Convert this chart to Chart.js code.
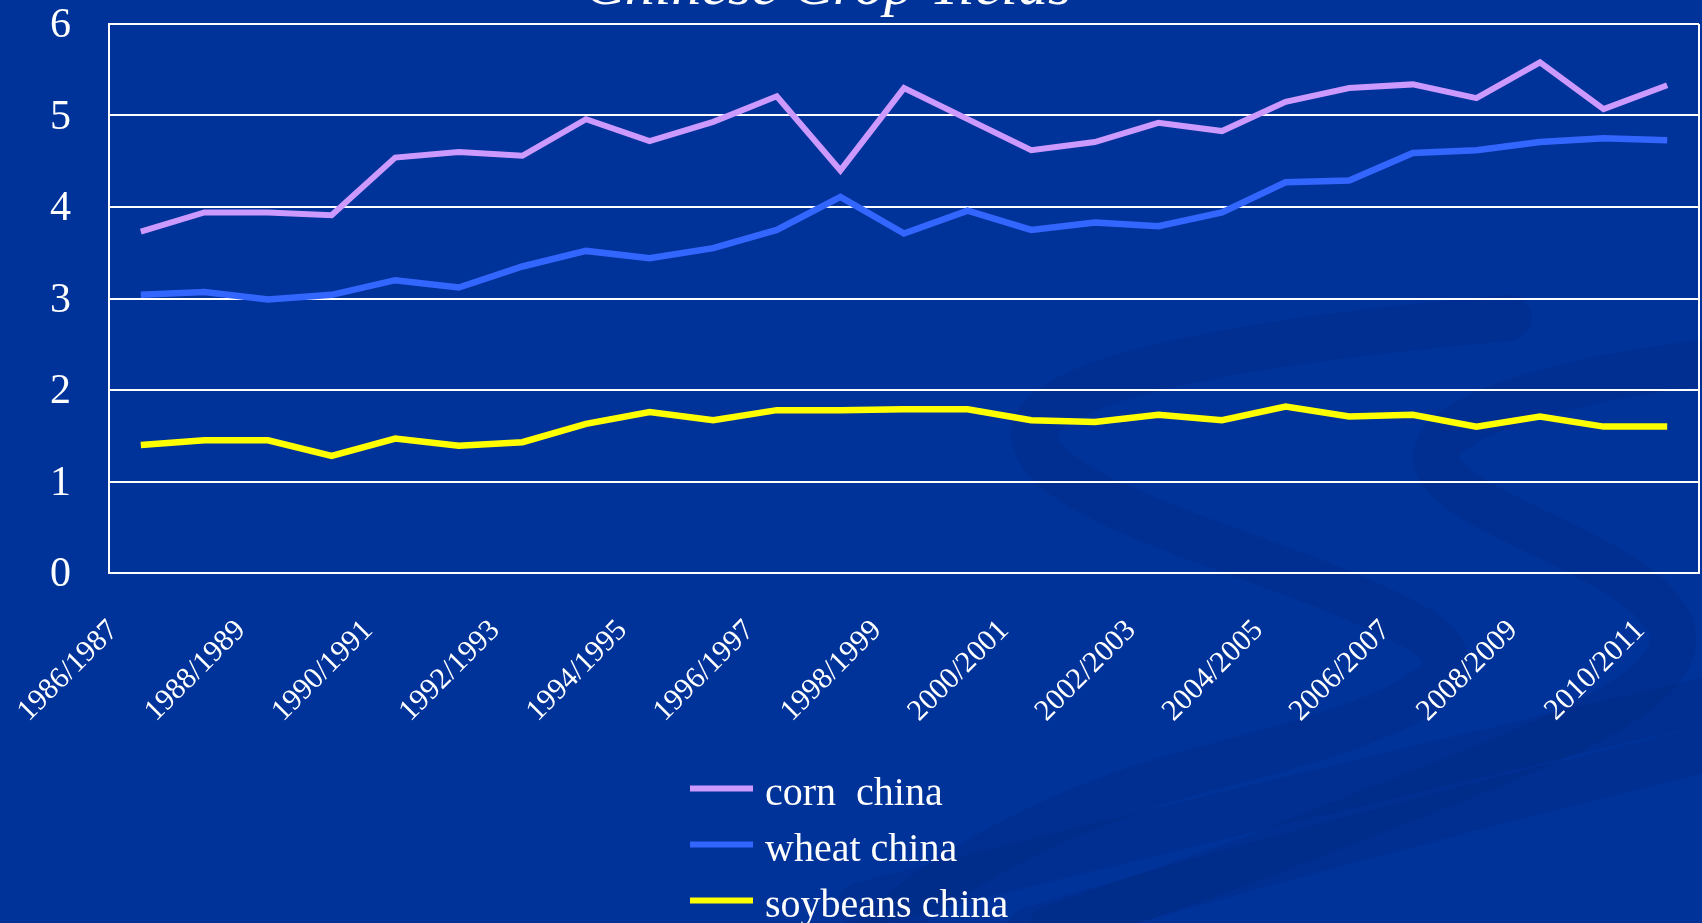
<!DOCTYPE html>
<html>
<head>
<meta charset="utf-8">
<script src="https://cdn.jsdelivr.net/npm/chart.js@4"></script>
<style>
html,body{margin:0;padding:0;background:#003399;overflow:hidden}
#wrap{position:relative;width:1702px;height:923px}
canvas{display:block}
</style>
</head>
<body>
<div id="wrap"><canvas id="c" width="1702" height="923"></canvas></div>
<script>
const categories = ['1986/1987','1987/1988','1988/1989','1989/1990','1990/1991','1991/1992','1992/1993','1993/1994','1994/1995','1995/1996','1996/1997','1997/1998','1998/1999','1999/2000','2000/2001','2001/2002','2002/2003','2003/2004','2004/2005','2005/2006','2006/2007','2007/2008','2008/2009','2009/2010','2010/2011'];
const cornChina = [3.73,3.94,3.94,3.91,4.54,4.60,4.56,4.96,4.72,4.93,5.21,4.40,5.30,4.96,4.62,4.71,4.92,4.83,5.15,5.30,5.34,5.19,5.58,5.07,5.33];
const wheatChina = [3.04,3.07,2.99,3.04,3.20,3.12,3.35,3.52,3.44,3.55,3.75,4.11,3.71,3.96,3.75,3.83,3.79,3.94,4.27,4.29,4.59,4.62,4.71,4.75,4.73];
const soybeansChina = [1.40,1.45,1.45,1.28,1.47,1.39,1.43,1.63,1.76,1.67,1.78,1.78,1.79,1.79,1.67,1.65,1.73,1.67,1.82,1.71,1.73,1.60,1.71,1.60,1.60];
const seriesLabels = ['corn  china','wheat china','soybeans china'];
const yTicks = [0,1,2,3,4,5,6];
const titleText = 'Chinese Crop Yields';

const bgPlugin = {
  id: 'bg',
  beforeDraw(chart) {
    const ctx = chart.ctx;
    ctx.save();
    ctx.fillStyle = '#003399';
    ctx.fillRect(0, 0, chart.width, chart.height);
    ctx.lineCap = 'round';
    ctx.strokeStyle = 'rgba(0,25,100,0.15)';
    ctx.lineWidth = 46;
    const paths = [
      [[1509,318],[1250,340],[1020,380],[1035,440],[1050,510],[1300,560],[1420,630],[1500,680],[1380,725],[1200,770],[1050,810],[950,870],[880,930]],
      [[1710,362],[1560,380],[1410,420],[1440,470],[1470,520],[1650,560],[1672,630],[1690,700],[1500,760],[1300,840],[1200,880],[1100,910],[1050,930]],
      [[860,905],[1200,820],[1450,760],[1710,700]],
      [[1030,930],[1300,850],[1500,800],[1710,748]]
    ];
    paths.forEach(p => {
      ctx.beginPath();
      ctx.moveTo(p[0][0], p[0][1]);
      for (let i = 1; i + 2 < p.length; i += 3) {
        ctx.bezierCurveTo(p[i][0], p[i][1], p[i+1][0], p[i+1][1], p[i+2][0], p[i+2][1]);
      }
      ctx.stroke();
    });
    ctx.restore();
  }
};

const framePlugin = {
  id: 'frame',
  beforeDatasetsDraw(chart) {
    const a = chart.chartArea, ctx = chart.ctx;
    ctx.save();
    ctx.strokeStyle = '#ffffff';
    ctx.lineWidth = 2;
    ctx.beginPath();
    ctx.moveTo(a.right, a.top);
    ctx.lineTo(a.right, a.bottom);
    ctx.stroke();
    ctx.restore();
  }
};

const titlePlugin = {
  id: 'cutTitle',
  afterDraw(chart) {
    const ctx = chart.ctx;
    ctx.save();
    ctx.font = 'italic 60px "Liberation Serif"';
    ctx.fillStyle = '#ffffff';
    ctx.textAlign = 'center';
    ctx.textBaseline = 'alphabetic';
    ctx.fillText(titleText, 828, 4);
    ctx.restore();
  }
};

const legendPlugin = {
  id: 'stackLegend',
  afterDraw(chart) {
    const ctx = chart.ctx;
    ctx.save();
    ctx.font = '40px "Liberation Serif"';
    ctx.textBaseline = 'alphabetic';
    ctx.textAlign = 'left';
    ctx.fillStyle = '#ffffff';
    chart.data.datasets.forEach((ds, i) => {
      const cy = 788.5 + i * 56;
      ctx.strokeStyle = ds.borderColor;
      ctx.lineWidth = 6;
      ctx.beginPath();
      ctx.moveTo(690, cy);
      ctx.lineTo(753, cy);
      ctx.stroke();
      ctx.fillText(ds.label, 765, cy + 16);
    });
    ctx.restore();
  }
};

new Chart(document.getElementById('c'), {
  type: 'line',
  data: {
    labels: categories,
    datasets: [
      { label: seriesLabels[0], data: cornChina, borderColor: '#CC99FF', backgroundColor: '#CC99FF', borderWidth: 6, pointRadius: 0, tension: 0, borderJoinStyle: 'miter' },
      { label: seriesLabels[1], data: wheatChina, borderColor: '#3366FF', backgroundColor: '#3366FF', borderWidth: 6.5, pointRadius: 0, tension: 0, borderJoinStyle: 'miter' },
      { label: seriesLabels[2], data: soybeansChina, borderColor: '#FFFF00', backgroundColor: '#FFFF00', borderWidth: 6.5, pointRadius: 0, tension: 0, borderJoinStyle: 'miter' }
    ]
  },
  options: {
    responsive: false,
    devicePixelRatio: 1,
    animation: false,
    layout: { padding: { top: 24, right: 3, left: 0, bottom: 0 } },
    plugins: { legend: { display: false }, title: { display: false }, tooltip: { enabled: false } },
    scales: {
      x: {
        type: 'category',
        offset: true,
        grid: { display: false, drawTicks: false },
        border: { display: true, color: '#ffffff', width: 2 },
        ticks: {
          color: '#ffffff',
          font: { family: '"Liberation Serif"', size: 30 },
          minRotation: 45, maxRotation: 45,
          autoSkip: false,
          padding: 40,
          labelOffset: -27,
          callback: (v, i) => (i % 2 === 0 ? categories[i] : '')
        },
        afterFit(s) { s.height = 350; s.paddingLeft = 0; s.paddingRight = 0; }
      },
      y: {
        min: yTicks[0],
        max: yTicks[yTicks.length - 1],
        grid: { color: '#ffffff', lineWidth: 2, drawTicks: false },
        border: { display: true, color: '#ffffff', width: 2 },
        ticks: {
          stepSize: 1,
          color: '#ffffff',
          padding: 38,
          labelOffset: 2,
          font: { family: '"Liberation Serif"', size: 42 }
        },
        afterFit(s) { s.width = 109; s.paddingTop = 0; s.paddingBottom = 0; }
      }
    }
  },
  plugins: [bgPlugin, framePlugin, titlePlugin, legendPlugin]
});
</script>
</body>
</html>
